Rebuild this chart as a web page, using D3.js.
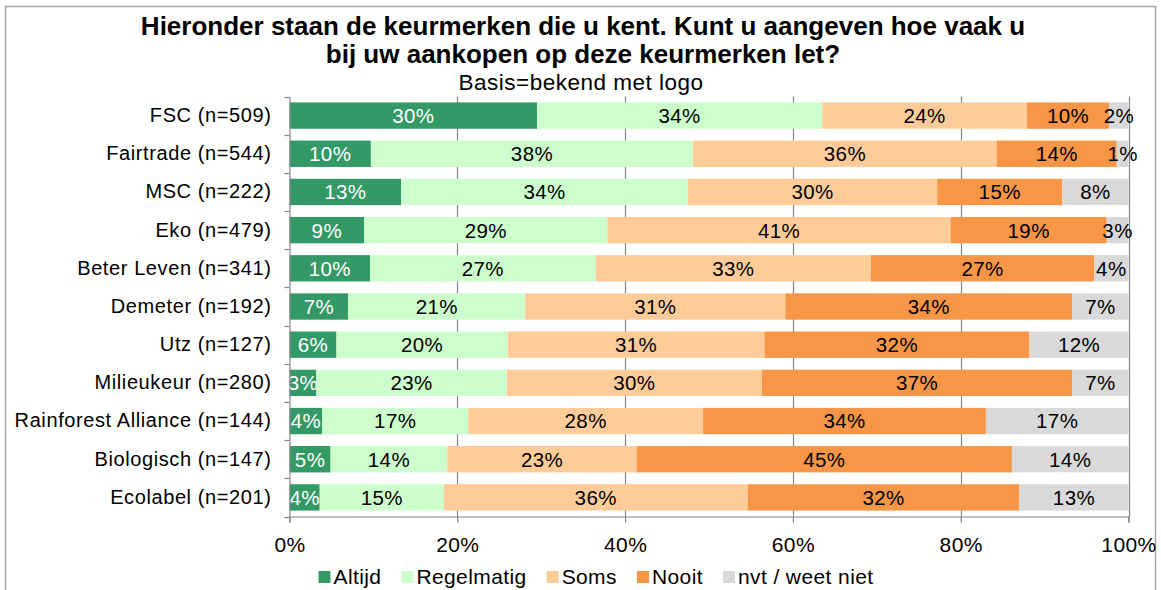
<!DOCTYPE html>
<html>
<head>
<meta charset="utf-8">
<script src="https://cdn.jsdelivr.net/npm/d3@7"></script>
<style>
  body { margin: 0; background: #fff; }
  svg { display: block; font-family: "Liberation Sans", Arial, sans-serif; }
</style>
</head>
<body>
<svg id="chart" width="1161" height="590"></svg>
<script>
// Keurmerken (categories, top to bottom)
const labels = [
    "FSC (n=509)", "Fairtrade (n=544)", "MSC (n=222)", "Eko (n=479)",
    "Beter Leven (n=341)", "Demeter (n=192)", "Utz (n=127)", "Milieukeur (n=280)",
    "Rainforest Alliance (n=144)", "Biologisch (n=147)", "Ecolabel (n=201)"
];

// Series, in percent
const altijd     = [29.5,  9.7, 13.3,  8.9,  9.6,  7.0,  5.6,  3.2,  3.9,  4.9,  3.6];
const regelmatig = [34.0, 38.4, 34.2, 29.0, 26.9, 21.1, 20.4, 22.7, 17.4, 13.9, 14.8];
const soms       = [24.4, 36.2, 29.7, 40.9, 32.8, 31.0, 30.6, 30.4, 28.0, 22.6, 36.2];
const nooit      = [ 9.8, 14.3, 14.9, 18.6, 26.6, 34.2, 31.6, 37.0, 33.7, 44.7, 32.4];
const nvt        = [ 2.3,  1.4,  7.9,  2.6,  4.1,  6.7, 11.8,  6.7, 17.0, 13.9, 13.0];

const seriesNames = ["Altijd", "Regelmatig", "Soms", "Nooit", "nvt / weet niet"];
const seriesColors = ["#339966", "#CCFFCC", "#FFCC99", "#F79646", "#D9D9D9"];
const xTicks = [0, 20, 40, 60, 80, 100];

const titleLines = [
    "Hieronder staan de keurmerken die u kent. Kunt u aangeven hoe vaak u",
    "bij uw aankopen op deze keurmerken let?"
];
const subtitle = "Basis=bekend met logo";

// build rows for the stack
const rows = labels.map((label, i) => ({
    label,
    "Altijd": altijd[i],
    "Regelmatig": regelmatig[i],
    "Soms": soms[i],
    "Nooit": nooit[i],
    "nvt / weet niet": nvt[i]
}));

const plot = {left: 289.5, right: 1128.5, top: 96.5, bottom: 516.5};
const svg = d3.select("#chart");

// outer frame
svg.append("rect")
    .attr("x", 5.5).attr("y", 6.5)
    .attr("width", 1150).attr("height", 600)
    .attr("fill", "none")
    .attr("stroke", "#a6a6a6")
    .attr("stroke-width", 1.5);

const x = d3.scaleLinear().domain([0, 100]).range([plot.left, plot.right]);
const y = d3.scaleBand()
    .domain(labels)
    .range([plot.top, plot.bottom])
    .paddingInner(0.31)
    .paddingOuter(0.155);
const color = d3.scaleOrdinal().domain(seriesNames).range(seriesColors);

// vertical gridlines
svg.append("g")
    .selectAll("line")
    .data(xTicks.slice(1))
    .enter()
    .append("line")
    .attr("x1", d => Math.round(x(d)) + 0.5)
    .attr("x2", d => Math.round(x(d)) + 0.5)
    .attr("y1", plot.top)
    .attr("y2", plot.bottom)
    .attr("stroke", "#868686")
    .attr("stroke-width", 1.2);

// bars
const stacked = d3.stack().keys(seriesNames)(rows);

const layers = svg.selectAll(".layer")
    .data(stacked)
    .enter()
    .append("g")
    .attr("class", "layer")
    .attr("fill", d => color(d.key));

layers.selectAll("rect")
    .data(d => d)
    .enter()
    .append("rect")
    .attr("x", d => x(d[0]))
    .attr("y", d => y(d.data.label))
    .attr("width", d => x(d[1]) - x(d[0]))
    .attr("height", y.bandwidth());

// value labels
layers.each(function(layer) {
    d3.select(this).selectAll("text")
        .data(layer)
        .enter()
        .append("text")
        .attr("x", d => (x(d[0]) + x(d[1])) / 2)
        .attr("y", d => y(d.data.label) + y.bandwidth() / 2)
        .attr("dy", "0.36em")
        .attr("text-anchor", "middle")
        .style("font-size", "20.5px")
        .style("letter-spacing", "0.4px")
        .style("fill", layer.key === "Altijd" ? "#ffffff" : "#000000")
        .text(d => Math.round(d[1] - d[0]) + "%");
});

// y axis
const yAxis = svg.append("g")
    .attr("transform", `translate(${plot.left},0)`)
    .call(d3.axisLeft(y).tickSize(0).tickPadding(18));
yAxis.select(".domain").attr("stroke", "#868686").attr("stroke-width", 1.2);
yAxis.selectAll("text")
    .style("font-size", "20px")
    .style("letter-spacing", "0.6px")
    .style("font-family", "Liberation Sans, Arial, sans-serif")
    .attr("fill", "#000");

// category separator ticks on the y axis
const bounds = labels.map(l => y(l) - y.step() * y.paddingInner() / 2).concat([plot.bottom]);
svg.append("g")
    .selectAll("line")
    .data(bounds)
    .enter()
    .append("line")
    .attr("x1", plot.left - 5)
    .attr("x2", plot.left)
    .attr("y1", d => Math.round(d) + 0.5)
    .attr("y2", d => Math.round(d) + 0.5)
    .attr("stroke", "#868686")
    .attr("stroke-width", 1.2);

// x axis
const xAxis = svg.append("g")
    .attr("transform", `translate(0,${plot.bottom})`)
    .call(d3.axisBottom(x).tickValues(xTicks).tickFormat(d => d + "%").tickSize(6).tickPadding(15));
xAxis.select(".domain").attr("stroke", "#868686").attr("stroke-width", 1.2);
xAxis.selectAll("line").attr("stroke", "#868686").attr("stroke-width", 1.2);
xAxis.selectAll("text")
    .style("font-size", "21px")
    .style("letter-spacing", "0.4px")
    .style("font-family", "Liberation Sans, Arial, sans-serif")
    .attr("fill", "#000");

// title
svg.selectAll(".title")
    .data(titleLines)
    .enter()
    .append("text")
    .attr("class", "title")
    .attr("x", 583)
    .attr("y", (d, i) => 35 + i * 28)
    .attr("text-anchor", "middle")
    .style("font-size", "26px")
    .style("font-weight", "bold")
    .text(d => d);

svg.append("text")
    .attr("x", 581)
    .attr("y", 90)
    .attr("text-anchor", "middle")
    .style("font-size", "22.5px")
    .style("letter-spacing", "0.5px")
    .text(subtitle);

// legend
const legend = svg.append("g").attr("class", "legend");
let lx = 0;
seriesNames.forEach(name => {
    const item = legend.append("g").attr("transform", `translate(${lx},0)`);
    item.append("rect")
        .attr("x", 0).attr("y", -13)
        .attr("width", 12).attr("height", 12)
        .attr("fill", color(name));
    const t = item.append("text")
        .attr("x", 15)
        .attr("y", 0)
        .style("font-size", "21px")
        .style("letter-spacing", "0.4px")
        .text(name);
    lx += 15 + t.node().getComputedTextLength() + 20;
});
const legendWidth = lx - 20;
legend.attr("transform", `translate(${596 - legendWidth / 2},${584})`);
</script>
</body>
</html>
